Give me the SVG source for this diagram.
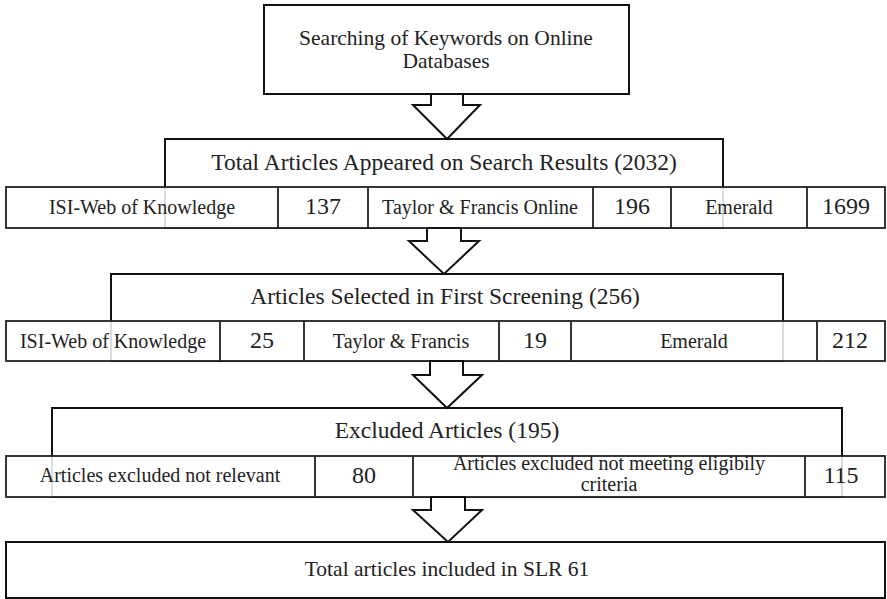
<svg xmlns="http://www.w3.org/2000/svg" width="887" height="599" viewBox="0 0 887 599">
<style>
  .box{fill:#fff;stroke:#111;stroke-width:2}
  .row{fill:#fff;fill-opacity:0.85;stroke:#222;stroke-width:1.8}
  .div{stroke:#222;stroke-width:1.8}
  .arrow{fill:#fff;stroke:#111;stroke-width:2;stroke-linejoin:miter}
  text{font-family:'Liberation Serif','DejaVu Serif',serif;fill:#222;text-anchor:middle}
  .t{font-size:23.5px}
  .top{font-size:21.5px}
  .l{font-size:20px}
  .n{font-size:24px}
</style>
<rect width="887" height="599" fill="#fff"/>
<g id="search" font-family="Liberation Serif, serif">
  <rect class="box" x="264" y="5" width="365" height="89"/>
  <text class="top" x="446" y="45">Searching of Keywords on Online</text>
  <text class="top" x="446" y="68">Databases</text>
</g>
<g id="total-articles" font-family="Liberation Serif, serif">
  <rect class="box" x="165" y="139" width="558" height="89"/>
  <text class="t" x="444" y="170">Total Articles Appeared on Search Results (2032)</text>
  <rect class="row" x="6" y="187" width="879" height="41"/>
  <line class="div" x1="278" y1="187" x2="278" y2="228"/>
  <line class="div" x1="368" y1="187" x2="368" y2="228"/>
  <line class="div" x1="593" y1="187" x2="593" y2="228"/>
  <line class="div" x1="671" y1="187" x2="671" y2="228"/>
  <line class="div" x1="807" y1="187" x2="807" y2="228"/>
  <text class="l" x="142" y="214">ISI-Web  of Knowledge</text>
  <text class="n" x="323" y="214">137</text>
  <text class="l" x="480" y="214">Taylor &amp; Francis Online</text>
  <text class="n" x="632" y="214">196</text>
  <text class="l" x="739" y="214">Emerald</text>
  <text class="n" x="846" y="214">1699</text>
</g>
<g id="first-screening" font-family="Liberation Serif, serif">
  <rect class="box" x="111" y="274" width="672" height="87"/>
  <text class="t" x="445" y="304">Articles Selected in First Screening (256)</text>
  <rect class="row" x="6" y="321" width="879" height="40"/>
  <line class="div" x1="220" y1="321" x2="220" y2="361"/>
  <line class="div" x1="304" y1="321" x2="304" y2="361"/>
  <line class="div" x1="499" y1="321" x2="499" y2="361"/>
  <line class="div" x1="571" y1="321" x2="571" y2="361"/>
  <line class="div" x1="817" y1="321" x2="817" y2="361"/>
  <text class="l" x="113" y="348">ISI-Web  of Knowledge</text>
  <text class="n" x="262" y="348">25</text>
  <text class="l" x="401" y="348">Taylor &amp; Francis</text>
  <text class="n" x="535" y="348">19</text>
  <text class="l" x="694" y="348">Emerald</text>
  <text class="n" x="850" y="348">212</text>
</g>
<g id="excluded" font-family="Liberation Serif, serif">
  <rect class="box" x="52" y="408" width="790" height="89"/>
  <text class="t" x="447" y="438">Excluded Articles  (195)</text>
  <rect class="row" x="6" y="456" width="879" height="41"/>
  <line class="div" x1="315" y1="456" x2="315" y2="497"/>
  <line class="div" x1="413" y1="456" x2="413" y2="497"/>
  <line class="div" x1="805" y1="456" x2="805" y2="497"/>
  <text class="l" x="160" y="482">Articles excluded not relevant</text>
  <text class="n" x="364" y="483">80</text>
  <text class="l" x="609" y="470">Articles excluded not meeting eligibily</text>
  <text class="l" x="609" y="491">criteria</text>
  <text class="n" x="841" y="483">115</text>
</g>
<g id="included" font-family="Liberation Serif, serif">
  <rect class="box" x="6" y="542" width="879" height="56"/>
  <text class="top" x="447" y="576">Total articles included in SLR 61</text>
</g>
<g id="connectors">
  <polygon class="arrow" points="431,94 431,105 413,105 447,139 480,105 463,105 463,94"/>
  <polygon class="arrow" points="427,228 427,241 409,241 444,274 479,241 461,241 461,228"/>
  <polygon class="arrow" points="430,361 430,375 413,375 447,408 482,375 463,375 463,361"/>
  <polygon class="arrow" points="431,497 431,510 413,510 448,542 482,510 465,510 465,497"/>
</g>
</svg>
